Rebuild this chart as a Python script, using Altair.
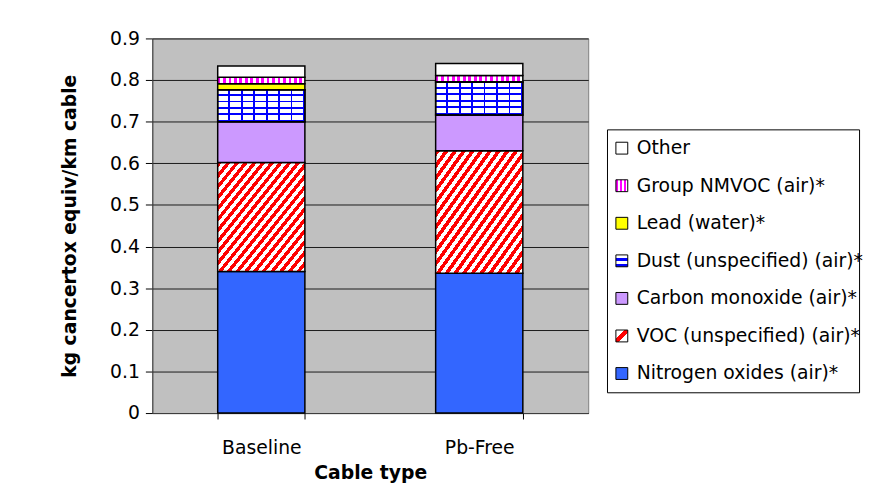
import altair as alt
import pandas as pd

# ---- data ----
cables = ["Baseline", "Pb-Free"]
series = [
    "Nitrogen oxides (air)*",
    "VOC (unspecified) (air)*",
    "Carbon monoxide (air)*",
    "Dust (unspecified) (air)*",
    "Lead (water)*",
    "Group NMVOC (air)*",
    "Other",
]
baseline_vals = [0.340, 0.262, 0.098, 0.077, 0.014, 0.016, 0.027]
pbfree_vals = [0.336, 0.294, 0.086, 0.079, 0.001, 0.015, 0.029]

rows = []
for i, s in enumerate(series):
    rows.append({"cable": cables[0], "series": s, "value": baseline_vals[i], "order": i})
    rows.append({"cable": cables[1], "series": s, "value": pbfree_vals[i], "order": i})
df = pd.DataFrame(rows)

FONT = "DejaVu Sans"


# ---- pattern-like fills built from linear gradients ----
def stripes(c1, c2, n, frac, x1, y1, x2, y2):
    stops = []
    for k in range(n):
        a = k / n
        b = (k + frac) / n
        c = (k + 1) / n
        stops += [
            {"offset": a, "color": c1},
            {"offset": b, "color": c1},
            {"offset": b, "color": c2},
            {"offset": c, "color": c2},
        ]
    return {"gradient": "linear", "x1": x1, "y1": y1, "x2": x2, "y2": y2, "stops": stops}


BAR_FILLS = {
    series[0]: "#3366FF",
    series[1]: stripes("#FF0000", "#FFFFFF", 20, 0.5, 0, 0, 1, 1),
    series[2]: "#CC99FF",
    series[3]: stripes("#FFFFFF", "#0000FF", 5, 0.7, 0, 0, 0, 1),
    series[4]: "#FFFF00",
    series[5]: stripes("#FF00FF", "#FFFFFF", 16, 0.5, 0, 0, 1, 0),
    series[6]: "#FFFFFF",
}
DUST_VERT = stripes("rgba(0,0,255,0)", "#0000FF", 7, 0.85, 0, 0, 1, 0)

LEG_FILLS = {
    series[0]: "#3366FF",
    series[1]: {"gradient": "linear", "x1": 0, "y1": 0, "x2": 1, "y2": 1,
                "stops": [{"offset": 0, "color": "#FFFFFF"}, {"offset": 0.38, "color": "#FFFFFF"},
                          {"offset": 0.38, "color": "#FF0000"}, {"offset": 0.62, "color": "#FF0000"},
                          {"offset": 0.62, "color": "#FFFFFF"}, {"offset": 1, "color": "#FFFFFF"}]},
    series[2]: "#CC99FF",
    series[3]: stripes("#FFFFFF", "#0000FF", 2, 0.6, 0, 0, 0, 1),
    series[4]: "#FFFF00",
    series[5]: stripes("#FF00FF", "#FFFFFF", 3, 0.5, 0, 0, 1, 0),
    series[6]: "#FFFFFF",
}

# ---- main stacked bar chart ----
x_enc = alt.X(
    "cable:N",
    sort=cables,
    scale=alt.Scale(paddingInner=0.6, paddingOuter=0.3),
    axis=alt.Axis(
        title="Cable type",
        labelAngle=0,
        labelFontSize=19,
        labelColor="black",
        labelPadding=20,
        tickBand="extent",
        tickSize=6,
        tickColor="black",
        domainColor="#404040",
        titleFontSize=19,
        titleFontWeight="bold",
        titleColor="black",
        titlePadding=6,
    ),
)
y_enc = alt.Y(
    "y0:Q",
    scale=alt.Scale(domain=[0, 0.9], nice=False),
    axis=alt.Axis(
        title="kg cancertox equiv/km cable",
        values=[0, 0.1, 0.2, 0.3, 0.4, 0.5, 0.6, 0.7, 0.8, 0.9],
        format="~g",
        labelFontSize=19,
        labelColor="black",
        labelPadding=6,
        tickSize=7,
        tickColor="black",
        domainColor="#404040",
        gridColor="#1a1a1a",
        gridWidth=1,
        titleFontSize=19,
        titleFontWeight="bold",
        titleColor="black",
        titlePadding=30,
    ),
)

base = alt.Chart(df).transform_stack(
    stack="value", groupby=["cable"], as_=["y0", "y1"], sort=[alt.SortField("order", order="ascending")]
)

layers = []
for s in series:
    layers.append(
        base.transform_filter(alt.datum.series == s)
        .mark_bar(fill=BAR_FILLS[s], stroke="black", strokeWidth=1.5)
        .encode(x=x_enc, y=y_enc, y2="y1:Q")
    )
    if s == series[3]:
        layers.append(
            base.transform_filter(alt.datum.series == s)
            .mark_bar(fill=DUST_VERT, stroke="black", strokeWidth=1.5)
            .encode(x=x_enc, y=y_enc, y2="y1:Q")
        )

main = alt.layer(*layers).properties(
    width=441,
    height=379,
    view=alt.ViewBackground(fill="#C0C0C0", stroke="#808080", strokeWidth=1),
)

# ---- legend drawn as its own small chart ----
legend_order = list(reversed(series))
leg_df = pd.DataFrame({"series": legend_order})
y_leg = alt.Y("series:N", sort=legend_order, axis=None, scale=alt.Scale(type="point", padding=0.5))

leg_layers = []
for s in series:
    leg_layers.append(
        alt.Chart(leg_df)
        .transform_filter(alt.datum.series == s)
        .mark_square(size=144, fill=LEG_FILLS[s], stroke="black", strokeWidth=1, opacity=1)
        .encode(x=alt.value(15), y=y_leg)
    )
leg_layers.append(
    alt.Chart(leg_df)
    .mark_text(align="left", baseline="middle", fontSize=19, font=FONT, color="black")
    .encode(x=alt.value(30), y=y_leg, text="series:N")
)
legend = alt.layer(*leg_layers).properties(
    width=255,
    height=266,
    view=alt.ViewBackground(fill="white", stroke="black", strokeWidth=1),
)

spacer = (
    alt.Chart(leg_df)
    .mark_point(opacity=0)
    .encode(x=alt.value(0), y=alt.value(0))
    .properties(width=255, height=90, view=alt.ViewBackground(stroke="transparent"))
)

chart = (
    alt.hconcat(main, alt.vconcat(spacer, legend, spacing=0), spacing=14)
    .properties(padding={"left": 53, "top": 18, "right": 0, "bottom": 0}, background="white")
    .configure(font=FONT)
    .configure_axis(labelFont=FONT, titleFont=FONT)
)

chart.save("out.html", embed_options={"renderer": "svg", "actions": False})
